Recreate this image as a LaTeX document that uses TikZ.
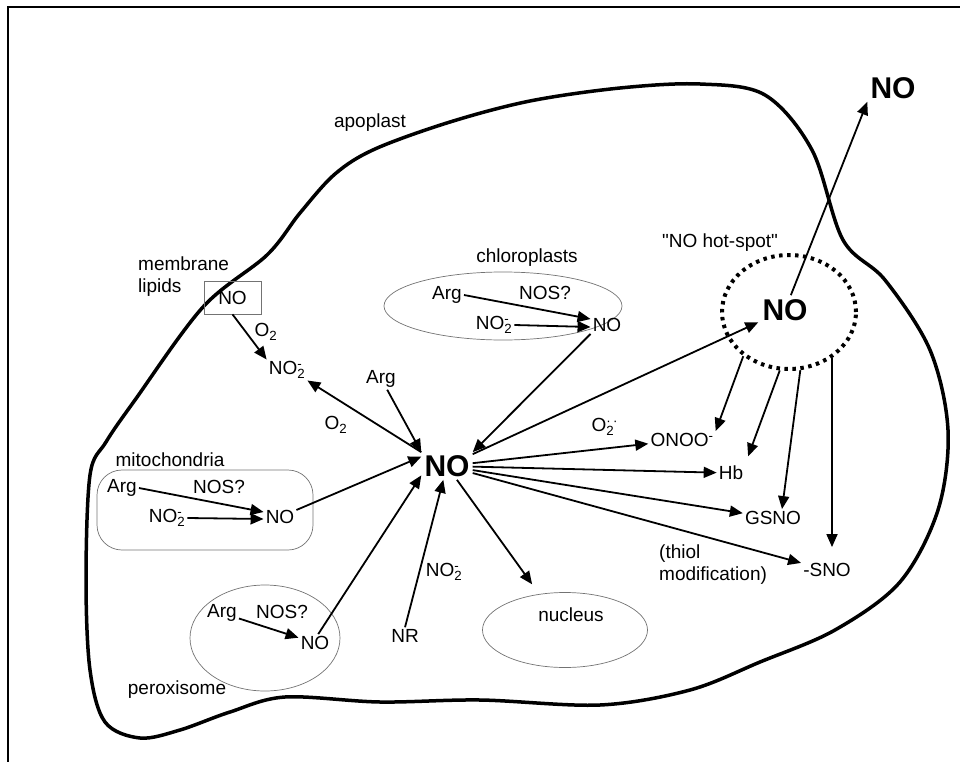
\documentclass[tikz,border=0pt]{standalone}
\usepackage{fontspec}
\setmainfont{Liberation Sans}
\newfontfamily\plainfont{Liberation Sans}
\usetikzlibrary{arrows.meta,shapes.geometric,calc}
\newcommand\subsup[2]{\rlap{\textsuperscript{#2}}\textsubscript{#1}}
\newcommand\nii{NO\subsup{2}{-}}
\begin{document}
\begin{tikzpicture}[x=1pt,y=-1pt,
  lbl/.style={font=\fontsize{19}{22}\selectfont, inner sep=2pt},
  big/.style={font=\fontsize{30}{32}\selectfont\bfseries, inner sep=3pt},
  arr/.style={line width=1.8pt, -{Triangle[length=13pt,width=11pt]}},
  organelle/.style={draw=black!55, line width=0.7pt},
]
\useasboundingbox (0,0) rectangle (960,762);
% frame
\draw[line width=2pt] (8,762) -- (8,7) -- (960,7);
% cell outline
\draw[line width=3.5pt, line join=round] plot[smooth cycle, tension=0.55] coordinates {
 (140,738) (105,722) (90,670) (86,580) (90,475) (106,442) (135,400) (203,307)
 (267,255) (300,213) (335,174) (375,149) (450,122) (530,101) (620,88) (700,84)
 (765,95) (812,150) (843,240) (885,280) (930,350) (948,430) (938,510) (900,582)
 (835,630) (760,662) (690,690) (600,705) (480,700) (380,702) (285,697) (230,712)
 (180,730)};
\node[lbl] (apo) at (370,123) {apoplast};

% organelles
\node[ellipse, organelle, minimum width=238pt, minimum height=68pt] (chl) at (503,306) {};
\node[lbl] (chlT) at (527,258) {chloroplasts};
\node[organelle, rounded corners=25pt, minimum width=216pt, minimum height=80pt] (mito) at (205,510) {};
\node[lbl] (mitoT) at (170,460) {mitochondria};
\node[ellipse, organelle, minimum width=150pt, minimum height=106pt] (per) at (265,638) {};
\node[lbl] (perT) at (177,690) {peroxisome};
\node[ellipse, organelle, minimum width=165pt, minimum height=75pt] (nuc) at (565,630) {};
\node[lbl] (nucT) at (571,615) {nucleus};

% membrane lipids
\node[lbl, draw=black!55, line width=0.7pt, minimum width=57pt, minimum height=33pt] (mb) at (232.5,297.5) {NO};
\node[lbl, anchor=north west, align=left, inner sep=0pt] (mbT) at (138,257) {membrane\\lipids};

% central NO and labels
\node[big] (cNO) at (447,466) {NO};
\node[lbl] (cNO2) at (287,370) {\nii};
\node[lbl] (cArg) at (381,379) {Arg};
\node[lbl] (o2a) at (336,425) {O\textsubscript{2}};
\node[lbl] (o2b) at (266,332) {O\textsubscript{2}};

% chloroplast content
\node[lbl] (chArg) at (447,295) {Arg};
\node[lbl] (chNOS) at (545,293) {NOS?};
\node[lbl] (chNO2) at (494,325) {\nii};
\node[lbl] (chNO) at (607,325) {NO};

% mitochondria content
\node[lbl] (mArg) at (122,488) {Arg};
\node[lbl] (mNOS) at (219,487) {NOS?};
\node[lbl] (mNO2) at (167,518) {\nii};
\node[lbl] (mNO) at (280,517) {NO};

% peroxisome content
\node[lbl] (pArg) at (222,613) {Arg};
\node[lbl] (pNOS) at (282,612) {NOS?};
\node[lbl] (pNO) at (315,643) {NO};

% NR
\node[lbl] (NR) at (405,636) {NR};
\node[lbl] (nrNO2) at (444,572) {\nii};

% hot spot
\node[ellipse, draw, line width=4pt, dash pattern=on 3.5pt off 4.5pt, minimum width=134pt, minimum height=114pt] (hot) at (789,312) {};
\node[big, inner sep=4pt] (hotNO) at (785,310) {NO};
\node[lbl] (hotT) at (720,243) {{\plainfont"}NO hot-spot{\plainfont"}};
\node[big] (topNO) at (893,88) {NO};

% products
\node[lbl] (onoo) at (682,440) {ONOO\textsuperscript{-}};
\node[lbl] (sup) at (603,427) {O\subsup{2}{·\,·}};
\node[lbl] (Hb) at (731,473) {Hb};
\node[lbl] (GSNO) at (773,518) {GSNO};
\node[lbl] (SNO) at (827,570) {-SNO};
\node[lbl, anchor=north west, align=left, inner sep=0pt] (thiol) at (659,545) {(thiol\\modification)};

% arrows: membrane
\draw[arr] (mb.south) -- (cNO2.north west);
% central
\draw[arr] (cNO.north west) -- (cNO2.south east);
\draw[arr] (cArg.-60) -- (cNO.north west);
\draw[arr] (chNO.south west) -- (cNO.north east);
\draw[arr] (mNO) -- (cNO.160);
\draw[arr] (pNO.70) -- (cNO.200);
\draw[arr] (NR.north) -- (cNO.255);
\draw[arr] (cNO) -- (hotNO);
\draw[arr] (cNO) -- (onoo);
\draw[arr] (cNO) -- (Hb);
\draw[arr] (cNO) -- (GSNO);
\draw[arr] (cNO) -- (SNO);
\draw[arr, shorten >=12pt] (cNO) -- (nuc);
% organelle internal
\draw[arr] (chArg.east) -- ([yshift=6pt]chNO.west);
\draw[arr] (chNO2.east) -- ([yshift=-2pt]chNO.west);
\draw[arr] (mArg.east) -- ([yshift=5pt]mNO.west);
\draw[arr] (mNO2.east) -- ([yshift=-2pt]mNO.west);
\draw[arr] (pArg) -- (pNO);
% hot spot
\draw[arr] (hotNO) -- (topNO.south west);
\draw[arr] (hot.224) -- (onoo.north east);
\draw[arr, shorten >=8pt] (hot.261) -- (Hb.north east);
\draw[arr] (hot.281) -- ([xshift=9pt]GSNO.north);
\draw[arr, shorten >=14pt] (hot.313) -- ([xshift=5pt]SNO.north);
\end{tikzpicture}
\end{document}
